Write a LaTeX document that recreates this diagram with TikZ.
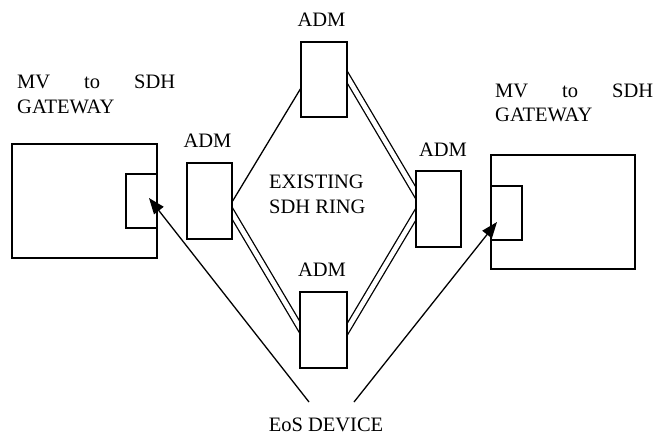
\documentclass[tikz,border=0pt]{standalone}
\usepackage{fontspec}
\setmainfont{Liberation Serif}
\usetikzlibrary{arrows.meta,backgrounds}
\tikzset{
  box/.style={draw, fill=white, line width=1.3pt, inner sep=0pt},
  lbl/.style={font=\fontsize{20.5}{25}\selectfont, inner sep=0pt},
  conn/.style={line width=1.3pt},
  dbl/.style={draw, line width=1.3pt, double=white, double distance=4.7pt},
  arr/.style={line width=1.3pt, -{Triangle[length=16pt,width=12pt]}}
}
\begin{document}
\begin{tikzpicture}[x=1pt,y=-1pt]
\useasboundingbox (0,0) rectangle (655,434);
% boxes
\node[box, minimum width=145pt, minimum height=114pt] (lgw) at (84.5,201) {};
\node[box, minimum width=31pt, minimum height=54pt] (lport) at (141.5,201) {};
\node[box, minimum width=45pt, minimum height=76pt] (ladm) at (209.5,201) {};
\node[box, minimum width=46pt, minimum height=75pt] (tadm) at (324,79.5) {};
\node[box, minimum width=45pt, minimum height=76pt] (radm) at (438.5,209) {};
\node[box, minimum width=47pt, minimum height=76pt] (badm) at (323.5,330) {};
\node[box, minimum width=144pt, minimum height=114pt] (rgw) at (563,212) {};
\node[box, minimum width=31pt, minimum height=54pt] (rport) at (506.5,213) {};
% labels
\node[lbl, anchor=base] (tadml) at (321.5,26) {ADM};
\node[lbl, anchor=base] (ladml) at (207.5,147) {ADM};
\node[lbl, anchor=base] (radml) at (443,156) {ADM};
\node[lbl, anchor=base] (badml) at (322,276) {ADM};
\node[lbl, anchor=base west] (lgwl1) at (17,88) {\hbox to 158pt{MV\hfill to\hfill SDH}};
\node[lbl, anchor=base west] (lgwl2) at (17,113) {GATEWAY};
\node[lbl, anchor=base west] (rgwl1) at (495,97) {\hbox to 158pt{MV\hfill to\hfill SDH}};
\node[lbl, anchor=base west] (rgwl2) at (495,121) {GATEWAY};
\node[lbl, anchor=base west] (ring1) at (269,188) {EXISTING};
\node[lbl, anchor=base west] (ring2) at (269,213) {SDH RING};
\node[lbl, anchor=base] (eos) at (326,431) {EoS DEVICE};
\coordinate (eosL) at (309,402);
\coordinate (eosR) at (354,402);
% ring connectors
\begin{scope}[on background layer]
\draw[conn] (ladm.east) -- ([yshift=-9.5pt]tadm.west);
\draw[dbl] ([xshift=-4pt,yshift=8.5pt]tadm.east) -- ([xshift=4pt,yshift=10pt]radm.west);
\draw[dbl] ([xshift=-3pt,yshift=-8pt]ladm.east) -- ([xshift=5pt,yshift=-5pt]badm.west);
\draw[dbl] ([xshift=3pt,yshift=-1pt]radm.west) -- ([xshift=-5pt,yshift=-7pt]badm.east);
\end{scope}
% arrows
\draw[arr] (eosL) -- ([xshift=7.5pt,yshift=3pt]lport.center);
\draw[arr] (eosR) -- ([xshift=-9.5pt,yshift=-9pt]rport.center);
\end{tikzpicture}
\end{document}
